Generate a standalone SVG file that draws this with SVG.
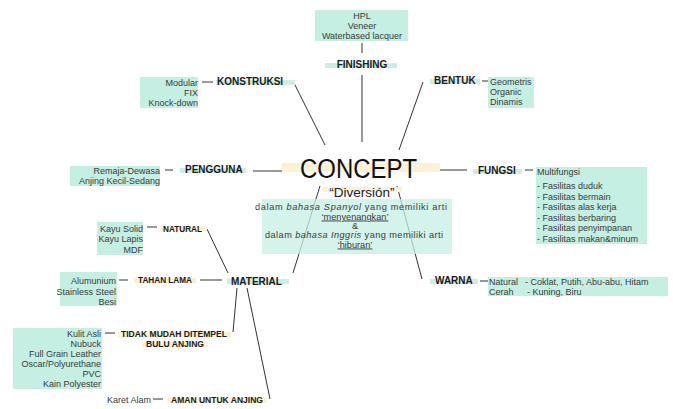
<svg xmlns="http://www.w3.org/2000/svg" width="673" height="409" viewBox="0 0 673 409">
<style>
.box{fill:#c5efe3}
.hl{fill:#cdeee6}
.hy{fill:#fbf1d4}
.hd{font-family:"Liberation Sans",Arial,sans-serif;font-size:10px;font-weight:bold;fill:#1a1a1a}
.hs{font-size:8.6px}
.ct{font-family:"Liberation Sans",Arial,sans-serif;font-size:9px;fill:#3a3a3a}
.ds{font-size:9.2px}
.r{text-anchor:end}
.m{text-anchor:middle}
.ln{stroke:#333;stroke-width:1;fill:none}
</style>
<rect width="673" height="409" fill="#ffffff"/>
<g id="connectors">
<line class="ln" x1="362" y1="43" x2="362" y2="53"/>
<line class="ln" x1="362" y1="75" x2="362" y2="142"/>
<line class="ln" x1="202" y1="82" x2="213" y2="82"/>
<line class="ln" x1="293" y1="81" x2="325" y2="145"/>
<line class="ln" x1="482" y1="81" x2="488" y2="81"/>
<line class="ln" x1="423" y1="82" x2="399" y2="150"/>
<line class="ln" x1="165" y1="170" x2="173" y2="170"/>
<line class="ln" x1="253" y1="171" x2="282" y2="171"/>
<line class="ln" x1="440" y1="170" x2="467" y2="170"/>
<line class="ln" x1="525" y1="170" x2="533" y2="170"/>
<line class="ln" x1="320" y1="186" x2="293" y2="273"/>
<line class="ln" x1="397" y1="186" x2="422" y2="279"/>
<line class="ln" x1="480" y1="281" x2="488" y2="281"/>
<line class="ln" x1="147" y1="227" x2="157" y2="227"/>
<line class="ln" x1="207" y1="229" x2="228" y2="273"/>
<line class="ln" x1="119" y1="280" x2="128" y2="280"/>
<line class="ln" x1="200" y1="280" x2="222" y2="280"/>
<line class="ln" x1="237" y1="288" x2="233" y2="332"/>
<line class="ln" x1="247" y1="288" x2="270" y2="399"/>
<line class="ln" x1="105" y1="333" x2="115" y2="333"/>
<line class="ln" x1="153" y1="399" x2="163" y2="399"/>
</g>
<g id="finishing-items">
<rect class="box" x="315" y="10" width="93" height="31"/>
<text class="ct m" x="362" y="18.5">HPL</text>
<text class="ct m" x="362" y="28.5">Veneer</text>
<text class="ct m" x="362" y="38.5">Waterbased lacquer</text>
</g>
<g id="finishing">
<rect class="hl" x="325" y="63" width="72" height="5"/>
<text class="hd m" x="362" y="68" font-size="11">FINISHING</text>
</g>
<g id="konstruksi-items">
<rect class="box" x="140" y="77" width="58" height="31"/>
<text class="ct r" x="198" y="86">Modular</text>
<text class="ct r" x="198" y="96">FIX</text>
<text class="ct r" x="198" y="106">Knock-down</text>
</g>
<g id="konstruksi">
<rect class="hl" x="216" y="80" width="79" height="5"/>
<text class="hd" x="217" y="85">KONSTRUKSI</text>
</g>
<g id="bentuk">
<rect class="hl" x="430" y="79" width="50" height="5"/>
<text class="hd" x="434" y="84">BENTUK</text>
</g>
<g id="bentuk-items">
<rect class="box" x="488" y="77" width="46" height="31"/>
<text class="ct" x="490" y="85">Geometris</text>
<text class="ct" x="490" y="95">Organic</text>
<text class="ct" x="490" y="105">Dinamis</text>
</g>
<g id="pengguna-items">
<rect class="box" x="70" y="166" width="90" height="20"/>
<text class="ct r" x="160" y="173.5">Remaja-Dewasa</text>
<text class="ct r" x="160" y="183.5">Anjing Kecil-Sedang</text>
</g>
<g id="pengguna">
<rect class="hl" x="180" y="168" width="66" height="5"/>
<text class="hd" x="185" y="173">PENGGUNA</text>
</g>
<g id="concept">
<rect class="hy" x="282" y="163" width="158" height="9"/>
<text x="300" y="178" font-family="'Liberation Sans',Arial,sans-serif" font-size="27" fill="#111" textLength="117" lengthAdjust="spacingAndGlyphs">CONCEPT</text>
<rect class="hy" x="322" y="187" width="80" height="5"/>
<text x="362" y="197" text-anchor="middle" font-family="'Liberation Sans',Arial,sans-serif" font-size="13.5" fill="#222">“Diversión”</text>
</g>
<g id="concept-desc">
<rect class="box" x="262" y="199" width="190" height="55" fill-opacity="0.75"/>
<text class="ct ds m" x="351" y="210" textLength="192">dalam <tspan font-style="italic">bahasa Spanyol</tspan> yang memiliki arti</text>
<text class="ct ds m" x="355" y="219.5" text-decoration="underline">‘menyenangkan’</text>
<text class="ct ds m" x="355" y="228.5">&amp;</text>
<text class="ct ds m" x="354" y="238" textLength="178">dalam <tspan font-style="italic">bahasa Inggris</tspan> yang memiliki arti</text>
<text class="ct ds m" x="355" y="247.5" text-decoration="underline">‘hiburan’</text>
</g>
<g id="fungsi">
<rect class="hl" x="473" y="169" width="49" height="5"/>
<text class="hd" x="478" y="174">FUNGSI</text>
</g>
<g id="fungsi-items">
<rect class="box" x="536" y="167" width="111" height="77"/>
<text class="ct" x="537" y="175">Multifungsi</text>
<text class="ct" x="537" y="189">- Fasilitas duduk</text>
<text class="ct" x="537" y="199.5">- Fasilitas bermain</text>
<text class="ct" x="537" y="210">- Fasilitas alas kerja</text>
<text class="ct" x="537" y="220.5">- Fasilitas berbaring</text>
<text class="ct" x="537" y="231">- Fasilitas penyimpanan</text>
<text class="ct" x="537" y="241.5">- Fasilitas makan&amp;minum</text>
</g>
<g id="warna">
<rect class="hl" x="430" y="279" width="48" height="5"/>
<text class="hd" x="435" y="284">WARNA</text>
</g>
<g id="warna-items">
<rect class="box" x="488" y="277" width="180" height="19"/>
<text class="ct" y="285"><tspan x="489">Natural</tspan><tspan x="525">- Coklat, Putih, Abu-abu, Hitam</tspan></text>
<text class="ct" y="295"><tspan x="489">Cerah</tspan><tspan x="527">- Kuning, Biru</tspan></text>
</g>
<g id="material">
<rect class="hl" x="227" y="279" width="62" height="5"/>
<text class="hd" x="231" y="285">MATERIAL</text>
</g>
<g id="natural">
<rect class="hy" x="160" y="226" width="47" height="5"/>
<text class="hd hs" x="163" y="231.5" textLength="39" lengthAdjust="spacingAndGlyphs">NATURAL</text>
</g>
<g id="natural-items">
<rect class="box" x="97" y="222" width="46" height="33"/>
<text class="ct r" x="143" y="231.5">Kayu Solid</text>
<text class="ct r" x="143" y="242">Kayu Lapis</text>
<text class="ct r" x="143" y="253">MDF</text>
</g>
<g id="tahan-lama">
<rect class="hy" x="134" y="278" width="62" height="5"/>
<text class="hd hs" x="138" y="283" textLength="54" lengthAdjust="spacingAndGlyphs">TAHAN LAMA</text>
</g>
<g id="tahan-lama-items">
<rect class="box" x="60" y="272" width="57" height="34"/>
<text class="ct r" x="116" y="284">Alumunium</text>
<text class="ct r" x="116" y="294.5">Stainless Steel</text>
<text class="ct r" x="116" y="304.5">Besi</text>
</g>
<g id="tidak-mudah">
<rect class="hy" x="118" y="332" width="113" height="5"/>
<rect class="hy" x="142" y="342" width="66" height="5"/>
<text class="hd hs" x="121" y="337" textLength="106" lengthAdjust="spacingAndGlyphs">TIDAK MUDAH DITEMPEL</text>
<text class="hd hs" x="146" y="347" textLength="58" lengthAdjust="spacingAndGlyphs">BULU ANJING</text>
</g>
<g id="tidak-mudah-items">
<rect class="box" x="13" y="328" width="89" height="61"/>
<text class="ct r" x="101" y="337">Kulit Asli</text>
<text class="ct r" x="101" y="347">Nubuck</text>
<text class="ct r" x="101" y="357">Full Grain Leather</text>
<text class="ct r" x="101" y="367">Oscar/Polyurethane</text>
<text class="ct r" x="101" y="377">PVC</text>
<text class="ct r" x="101" y="387">Kain Polyester</text>
</g>
<g id="aman">
<rect class="hy" x="167" y="398" width="100" height="5"/>
<text class="hd hs" x="171" y="403" textLength="92" lengthAdjust="spacingAndGlyphs">AMAN UNTUK ANJING</text>
</g>
<g id="aman-items">
<text class="ct r" x="151" y="403">Karet Alam</text>
</g>
</svg>
